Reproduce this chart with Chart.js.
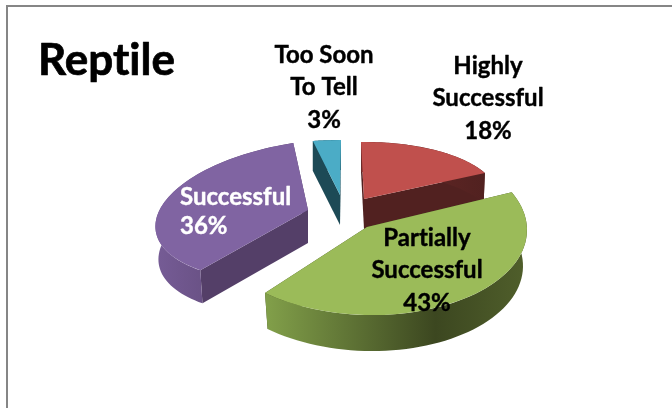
<!DOCTYPE html>
<html>
<head>
<meta charset="utf-8">
<style>
  html, body { margin:0; padding:0; background:#fff; }
  #frame { position:absolute; left:6px; top:5px; width:666px; height:403px; border-left:2px solid #868686; border-top:2px solid #868686; box-sizing:border-box; }
  #c { position:absolute; left:0; top:0; }
</style>
<script src="https://cdn.jsdelivr.net/npm/chart.js@4"></script>
</head>
<body>
<div id="frame"></div>
<canvas id="c" width="672" height="408" style="width:672px;height:408px"></canvas>
<script>
const chartTitle = 'Reptile';
const categories = ['Highly Successful', 'Partially Successful', 'Successful', 'Too Soon To Tell'];
const values = [18, 43, 36, 3];
const labelLines = [['Highly', 'Successful'], ['Partially', 'Successful'], ['Successful'], ['Too Soon', 'To Tell']];

const topColors = ['#c0504d', '#9bbb59', '#8064a2', '#4bacc6'];
const cutColors = ['#512120', '#3f4a22', '#543f68', '#1d4a56'];
const rimColors = [
  ['#6d2a28', '#512120'],
  ['#82a04a', '#3c4720', '#505f2b'],
  ['#765c96', '#543f68'],
  ['#1d4a56', '#1d4a56']
];

// fake 3D: each exploded slice gets its own flattening (tip, x axis, y axis) and wall depth
const poses = [
  { t:[364,199], a:[135,-2], b:[3,57],  depth:30, taper:0.99 },
  { t:[367,227], a:[160,3],  b:[0,88],  depth:36, taper:0.975 },
  { t:[308,210], a:[152,-10], b:[-14,70], depth:33, taper:0.98 },
  { t:[340,195], a:[150,0],  b:[-1,55], depth:30, taper:1 }
];
const paintOrder = [2, 3, 0, 1];

const labelStyle = [
  { x:488, y:[66,98], py:131, color:'#000', align:'center' },
  { x:427, y:[238,270], py:303, color:'#000', align:'center' },
  { x:180, y:[197], py:226, color:'#fff', align:'left' },
  { x:324, y:[55,87], py:120, color:'#000', align:'center' }
];

// point on the slice rim; down/taper give the matching point on the lower edge of the wall
function rimPoint(p, ang, down, taper){
  const k = taper || 1;
  return [
    p.t[0] + k*(p.a[0]*Math.cos(ang) + p.b[0]*Math.sin(ang)),
    p.t[1] + p.a[1]*Math.cos(ang) + p.b[1]*Math.sin(ang) + (down || 0)
  ];
}

function quad(ctx, pts, fill){
  ctx.fillStyle = fill;
  ctx.beginPath();
  pts.forEach((q, i) => i ? ctx.lineTo(q[0], q[1]) : ctx.moveTo(q[0], q[1]));
  ctx.closePath();
  ctx.fill();
}

const pie3d = {
  id: 'pie3d',
  beforeDatasetsDraw(chart){
    const ctx = chart.ctx;
    const arcs = chart.getDatasetMeta(0).data;
    paintOrder.forEach(i => {
      const el = arcs[i], p = poses[i], d = p.depth;
      const s = el.startAngle, e = el.endAngle;
      const ps = rimPoint(p, s), pe = rimPoint(p, e);
      const t = p.t, td = [t[0], t[1]+d];

      // cut faces
      quad(ctx, [t, pe, rimPoint(p, e, d, p.taper), td], cutColors[i]);
      quad(ctx, [t, ps, rimPoint(p, s, d, p.taper), td], cutColors[i]);

      // outer wall
      const top = [], low = [];
      for(let k=0;k<=60;k++){
        const ang = s + (e-s)*k/60;
        top.push(rimPoint(p, ang));
        low.unshift(rimPoint(p, ang, d, p.taper));
      }
      const xs = top.map(q => q[0]);
      const x0 = Math.min(...xs), x1 = Math.max(...xs);
      const g = ctx.createLinearGradient(x0, 0, x1, 0);
      const stops = rimColors[i];
      if(stops.length === 3){
        g.addColorStop(0, stops[0]); g.addColorStop(0.65, stops[1]); g.addColorStop(1, stops[2]);
      } else {
        g.addColorStop(0, stops[0]); g.addColorStop(1, stops[1]);
      }
      quad(ctx, top.concat(low), g);

      // top face: the library's own arc, flattened
      const r = el.outerRadius;
      ctx.save();
      ctx.transform(p.a[0]/r, p.a[1]/r, p.b[0]/r, p.b[1]/r, t[0], t[1]);
      ctx.translate(-el.x, -el.y);
      el.draw(ctx);
      ctx.restore();
    });
    return false;
  },
  afterDraw(chart){
    const ctx = chart.ctx;
    ctx.save();
    ctx.textRendering = 'optimizeSpeed';
    ctx.textBaseline = 'middle';
    ctx.lineJoin = 'round';
    ctx.fillStyle = ctx.strokeStyle = '#000';
    ctx.textAlign = 'left';
    ctx.font = 'bold 44px Lato';
    ctx.lineWidth = 0.7;
    ctx.fillText(chartTitle, 38, 61);
    ctx.strokeText(chartTitle, 38, 61);
    ctx.font = 'bold 24px Lato';
    ctx.lineWidth = 0.4;
    labelLines.forEach((lines, i) => {
      const st = labelStyle[i];
      ctx.fillStyle = ctx.strokeStyle = st.color;
      ctx.textAlign = st.align;
      const rows = lines.map((txt, j) => [txt, st.y[j]]).concat([[values[i] + '%', st.py]]);
      rows.forEach(r => { ctx.fillText(r[0], st.x, r[1]); ctx.strokeText(r[0], st.x, r[1]); });
    });
    ctx.restore();
  }
};

new Chart(document.getElementById('c'), {
  type: 'pie',
  data: {
    labels: categories,
    datasets: [{ data: values, backgroundColor: topColors, borderWidth: 0 }]
  },
  options: {
    responsive: false,
    animation: false,
    events: [],
    plugins: { legend: { display:false }, tooltip: { enabled:false } }
  },
  plugins: [pie3d]
});
</script>
</body>
</html>
